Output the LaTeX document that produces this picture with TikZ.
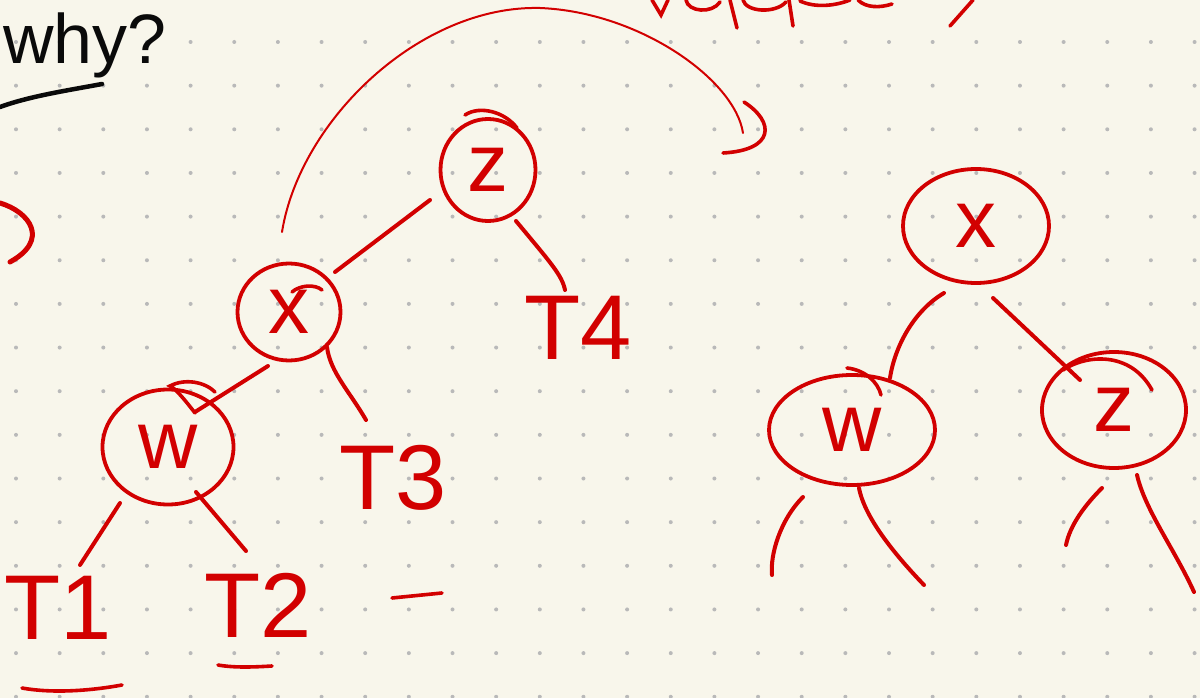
\documentclass[tikz,border=0pt]{standalone}
\usepackage{fontspec}
\setmainfont{Liberation Sans}
\usetikzlibrary{shapes.geometric,calc}
\definecolor{paper}{RGB}{248,246,235}
\definecolor{ink}{RGB}{210,0,0}
\definecolor{dotc}{RGB}{185,185,185}
\definecolor{pen}{RGB}{10,10,10}
\tikzset{
  tnode/.style={ellipse, draw=ink, line width=3.8pt, inner sep=0pt, text=ink,
    font=\fontsize{82}{82}\selectfont},
  tlabel/.style={text=ink, inner sep=0pt, font=\fontsize{92}{92}\selectfont},
  edge/.style={draw=ink, line width=4pt, line cap=round},
  thinink/.style={draw=ink, line width=2pt, line cap=round},
  scrib/.style={draw=ink, line width=3.6pt, line cap=round},
}
\begin{document}
\begin{tikzpicture}[x=1pt,y=-1pt]
\fill[paper] (0,0) rectangle (1200,698);
\useasboundingbox (0,0) rectangle (1200,698);
\foreach \i in {0,...,27}{\foreach \j in {0,...,15}{
  \fill[dotc] ({16+43.65*\i},{42+43.65*\j}) circle (2pt);}}

% "why?" at top left
\node[anchor=base west, inner sep=0pt, text=pen, font=\fontsize{70}{70}\selectfont] (why) at (3,64) {why?};
\draw[draw=pen, line width=4.5pt, line cap=round] (0,107) .. controls (30,96) and (70,90) .. (102,84);

% cut-off text at top (only its lower strokes are visible)
\draw[scrib] (652,0) -- (661,15) -- (668,0);
\draw[scrib] (686,0) .. controls (688,12) and (712,14) .. (720,2);
\draw[scrib] (730,0) -- (737,28);
\draw[scrib] (743,0) .. controls (746,12) and (775,14) .. (786,2);
\draw[scrib] (789,0) -- (793,26);
\draw[scrib] (800,1) .. controls (815,8) and (835,6) .. (850,0);
\draw[scrib] (858,0) .. controls (866,8) and (880,8) .. (892,4);
\draw[scrib] (973,0) -- (950,26);

% left-edge bracket
\draw[draw=ink, line width=5pt, line cap=round] (0,203) .. controls (30,212) and (50,240) .. (10,262);

% left tree
\node[tnode, minimum width=95pt, minimum height=102pt] (zL) at (488,170) {z};
\node[tnode, minimum width=103pt, minimum height=97pt] (xL) at (289,312) {x};
\node[tnode, minimum width=131pt, minimum height=115pt] (wL) at (168,447) {w};
\node[tlabel] (T1) at (58,608) {T1};
\node[tlabel] (T2) at (258,605) {T2};
\node[tlabel] (T3) at (393,478) {T3};
\node[tlabel] (T4) at (578,328) {T4};

\draw[edge] ($(zL)+(-58,30)$) -- ($(xL)+(46,-40)$);
\draw[edge] ($(zL)+(28,51)$) .. controls (550,262) and (562,275) .. ($(T4)+(-13,-38)$);
\draw[edge] ($(xL)+(-21,54)$) -- ($(wL)+(27,-35)$);
\draw[edge] ($(xL)+(38,35)$) .. controls (330,372) and (350,392) .. ($(T3)+(-27,-58)$);
\draw[edge] ($(wL)+(-48,56)$) -- ($(T1)+(22,-43)$);
\draw[edge] ($(wL)+(28,45)$) -- ($(T2)+(-12,-54)$);

% double-stroke scribbles on circles
\draw[scrib] (465,115) .. controls (480,105) and (505,112) .. (517,128);
\draw[scrib] (195,413) .. controls (185,400) and (175,388) .. (170,386) .. controls (185,378) and (205,382) .. (215,392);
\draw[scrib] (292,292) .. controls (300,285) and (315,284) .. (322,290);

% underlines
\draw[scrib] (22,688) .. controls (55,694) and (95,690) .. (122,685);
\draw[scrib] (218,665) .. controls (235,668) and (255,667) .. (272,666);
\draw[scrib] (392,598) -- (442,593);

% curved arrow from left tree to right tree
\coordinate (arcS) at (282,232);
\coordinate (arcE) at (743,133);
\draw[thinink] (arcS) .. controls (300,120) and (420,5) .. (540,8) .. controls (640,12) and (735,80) .. (arcE);
\draw[scrib] ($(arcE)+(1,-31)$) .. controls (775,122) and (775,150) .. ($(arcE)+(-20,20)$);

% right tree
\node[tnode, minimum width=146pt, minimum height=114pt] (xR) at (976,226) {x};
\node[tnode, minimum width=166pt, minimum height=110pt] (wR) at (852,430) {w};
\node[tnode, minimum width=144pt, minimum height=116pt] (zR) at (1114,410) {z};

\draw[edge] ($(xR)+(-32,67)$) .. controls (915,310) and (895,345) .. ($(wR)+(38,-52)$);
\draw[edge] ($(xR)+(17,72)$) -- ($(zR)+(-34,-30)$);
\draw[scrib] (847,368) .. controls (865,370) and (878,382) .. (881,395);
\draw[scrib] (1063,370) .. controls (1085,355) and (1130,350) .. (1152,390);

\coordinate (wRl) at (772,575);
\coordinate (wRr) at (924,585);
\coordinate (zRl) at (1066,545);
\coordinate (zRr) at (1194,592);
\draw[edge] ($(wR)+(-49,67)$) .. controls (780,520) and (770,555) .. (wRl);
\draw[edge] ($(wR)+(7,58)$) .. controls (865,520) and (900,560) .. (wRr);
\draw[edge] ($(zR)+(-12,78)$) .. controls (1085,505) and (1070,525) .. (zRl);
\draw[edge] ($(zR)+(23,65)$) .. controls (1145,510) and (1175,550) .. (zRr);
\end{tikzpicture}
\end{document}
